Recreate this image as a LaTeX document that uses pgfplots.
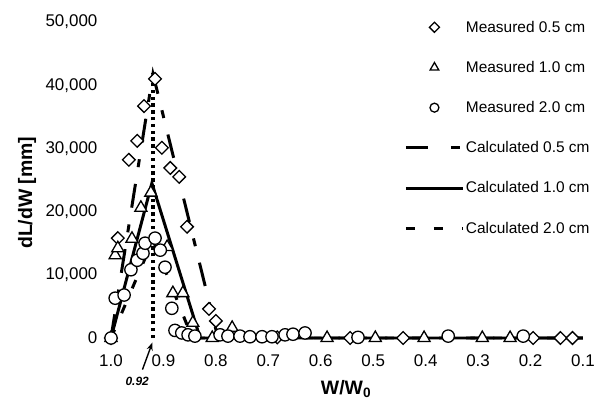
\documentclass[border=0pt]{standalone}
\usepackage{fontspec}
\setmainfont{Liberation Sans}
\usepackage{pgfplots}
\pgfplotsset{compat=1.18}
\usetikzlibrary{arrows.meta}

\pgfplotstableread{
w y
1.000 0
0.987 15800
0.966 28200
0.950 31200
0.937 36700
0.916 41000
0.903 30100
0.887 26900
0.870 25500
0.855 17600
0.813 4600
0.800 2700
0.683 100
0.544 0
0.443 0
0.195 0
0.143 0
0.120 0
}\diamdata

\pgfplotstableread{
w y
1.000 0
0.992 13100
0.987 14200
0.960 15700
0.943 20600
0.924 23000
0.893 14400
0.882 7100
0.863 7100
0.844 2400
0.807 0
0.769 1600
0.588 0
0.496 0
0.403 0
0.292 0
0.239 0
}\tridata

\pgfplotstableread{
w y
1.000 0
0.992 6300
0.975 6800
0.962 10800
0.950 12300
0.939 13400
0.935 15000
0.916 15800
0.906 13900
0.897 11200
0.884 4700
0.878 1200
0.865 800
0.853 500
0.840 300
0.792 500
0.777 300
0.754 300
0.735 200
0.712 200
0.693 200
0.668 500
0.653 600
0.630 800
0.529 100
0.357 300
0.214 300
}\circdata

\pgfplotstableread{
w y
1.000 0
0.920 41800
0.796 0
0.100 0
}\calcA

\pgfplotstableread{
w y
1.000 0
0.922 24500
0.830 0
0.100 0
}\calcB

\pgfplotstableread{
w y
1.000 0
0.920 15500
0.845 0
0.100 0
}\calcC

\begin{document}
\begin{tikzpicture}
\useasboundingbox (-111bp,-66bp) rectangle (487bp,338bp);
\begin{axis}[
  scale only axis, width=472bp, height=316bp,
  at={(0,0)}, anchor=south west,
  x dir=reverse, xmin=0.1, xmax=1.0, ymin=0, ymax=50000,
  clip=false,
  axis x line=bottom, axis y line=left,
  axis line style={draw=none},
  tick style={draw=none},
  xtick={0.1,0.2,0.3,0.4,0.5,0.6,0.7,0.8,0.9,1.0},
  ytick={0,10000,20000,30000,40000,50000},
  scaled y ticks=false,
  every tick label/.append style={font=\fontsize{17}{19}\selectfont},
  xticklabel style={yshift=-11bp, /pgf/number format/.cd, fixed, precision=1, fixed zerofill, assume math mode=true},
  yticklabel style={xshift=-8bp, /pgf/number format/.cd, fixed, 1000 sep={,}, assume math mode=true},
  xlabel={\textbf{W/W\textsubscript{0}}},
  ylabel={\textbf{dL/dW [mm]}},
  xlabel style={font=\fontsize{19.5}{21}\selectfont, at={(axis description cs:0.498,0)}, anchor=center, yshift=-51bp},
  ylabel style={font=\fontsize{19.5}{21}\selectfont, at={(axis description cs:-0.178,0.46)}, anchor=center},
  legend style={draw=none, fill=none, at={(rel axis cs:0.615,1.015)}, anchor=north west,
    font=\fontsize{15.5}{18}\selectfont, row sep=24.5bp, nodes={inner sep=1.5bp}},
  legend cell align=left,
  legend image code/.code={\draw[mark repeat=2,mark phase=2] plot coordinates {(0bp,0bp)(28.5bp,0bp)(57bp,0bp)};},
]
% legend images
\addlegendimage{only marks, mark=square*, mark options={rotate=45, fill=white, draw=black, line width=1.3pt, mark size=3.6pt}}
\addlegendimage{only marks, mark=triangle*, mark options={fill=white, draw=black, line width=1.3pt, mark size=5pt}}
\addlegendimage{only marks, mark=*, mark options={fill=white, draw=black, line width=1.3pt, mark size=4.5pt}}
\addlegendimage{black, line width=3pt, dash pattern=on 22bp off 23bp on 9bp off 18bp}
\addlegendimage{black, line width=3pt}
\addlegendimage{black, line width=3pt, dash pattern=on 9bp off 19bp}

% calculated
\addplot[forget plot, black, line width=3pt, dash pattern=on 24bp off 17bp on 8bp off 17bp] table[x=w,y=y] {\calcA};
\addplot[forget plot, black, line width=3pt] table[x=w,y=y] {\calcB};
\addplot[forget plot, black, line width=3pt, dash pattern=on 9bp off 18bp] table[x=w,y=y] {\calcC};
% 0.92 marker line
\addplot[forget plot, black, line width=3.4pt, dash pattern=on 3.4bp off 3.4bp] coordinates {(0.92,0) (0.92,42000)};

% measured
\addplot[forget plot, only marks, mark=square*, mark options={rotate=45, fill=white, draw=black, line width=1.3pt, mark size=4.5pt}] table[x=w,y=y] {\diamdata};
\addplot[forget plot, only marks, mark=triangle*, mark options={fill=white, draw=black, line width=1.3pt, mark size=7pt}] table[x=w,y=y] {\tridata};
\addplot[forget plot, only marks, mark=*, mark options={fill=white, draw=black, line width=1.3pt, mark size=6.2pt}] table[x=w,y=y] {\circdata};

\draw[-{Stealth[length=8bp,width=6bp]}, line width=1.4pt] (axis cs:0.940,-5000) -- (axis cs:0.921,-700);
\node[font=\fontsize{12}{14}\selectfont\bfseries\itshape] at (axis cs:0.950,-6900) {0.92};

\legend{Measured 0.5 cm, Measured 1.0 cm, Measured 2.0 cm, Calculated 0.5 cm, Calculated 1.0 cm, Calculated 2.0 cm}
\end{axis}
\end{tikzpicture}
\end{document}
